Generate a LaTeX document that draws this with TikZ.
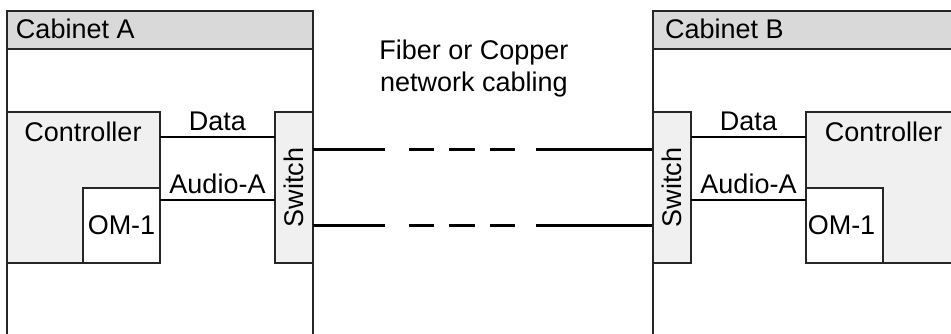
\documentclass[tikz,border=0pt]{standalone}
\usepackage{fontspec}
\setmainfont{Liberation Sans}
\definecolor{headgray}{HTML}{D9D9D9}
\definecolor{boxgray}{HTML}{F0F0F0}
\definecolor{edgegray}{HTML}{262626}
\begin{document}
\begin{tikzpicture}[x=1pt,y=-1pt,
  every node/.style={inner sep=0pt,outer sep=0pt},
  frame/.style={draw=edgegray,line width=1.3pt,anchor=north west},
  cabbox/.style={frame,fill=white},
  headbox/.style={frame,fill=headgray},
  ctrlbox/.style={frame,fill=boxgray},
  ombox/.style={frame,fill=white},
  swbox/.style={frame,fill=boxgray},
  lbl/.style={font=\fontsize{27}{32}\selectfont,text=black},
  cable/.style={line width=2.8pt,black},
  netcable/.style={cable,dash pattern=on 72pt off 24pt on 25pt off 15pt on 26pt off 15pt on 25pt off 21pt on 116pt off 20pt}
]
\useasboundingbox (0,0) rectangle (951,333);
\clip (0,0) rectangle (951,333);
% Cabinet A
\node[cabbox,minimum width=306pt,minimum height=340pt] (cabA) at (7,11) {};
\node[headbox,minimum width=306pt,minimum height=38pt] (headA) at (7,11) {};
\node[lbl,anchor=base west] (tA) at (16,38) {Cabinet A};
\node[ctrlbox,minimum width=153pt,minimum height=151pt] (ctrlA) at (7,112) {};
\node[lbl,anchor=base] (tcA) at (83,141) {Controller};
\node[ombox,minimum width=77pt,minimum height=75pt] (omA) at (83,188) {};
\node[lbl] (toA) at (omA.center) {OM-1};
\node[swbox,minimum width=38pt,minimum height=151pt] (swA) at (275,112) {};
\node[lbl,rotate=90] (tsA) at (swA.center) {Switch};
% Cabinet B
\node[cabbox,minimum width=340pt,minimum height=340pt] (cabB) at (653,11) {};
\node[headbox,minimum width=340pt,minimum height=38pt] (headB) at (653,11) {};
\node[lbl,anchor=base west] (tB) at (665,38) {Cabinet B};
\node[ctrlbox,minimum width=155pt,minimum height=151pt] (ctrlB) at (806,112) {};
\node[lbl,anchor=base] (tcB) at (883.5,141) {Controller};
\node[ombox,minimum width=77pt,minimum height=75pt] (omB) at (806,188) {};
\node[lbl] (toB) at ([xshift=-3pt]omB.center) {OM-1};
\node[swbox,minimum width=38pt,minimum height=151pt] (swB) at (653,112) {};
\node[lbl,rotate=90] (tsB) at (swB.center) {Switch};
% Internal connections
\draw[cable] ([yshift=-25pt]ctrlA.north east) -- node[lbl,above=6pt] (dA) {Data} ([yshift=-25pt]swA.north west);
\draw[cable] ([yshift=-12pt]omA.north east) -- node[lbl,above=6pt] (aA) {Audio-A} ([yshift=-88pt]swA.north west);
\draw[cable] ([yshift=-25pt]swB.north east) -- node[lbl,above=6pt] (dB) {Data} ([yshift=-25pt]ctrlB.north west);
\draw[cable] ([yshift=-88pt]swB.north east) -- node[lbl,above=6pt] (aB) {Audio-A} ([yshift=-12pt]omB.north west);
% Network cabling
\draw[netcable] ([yshift=-37.5pt]swA.north east) -- ([yshift=-37.5pt]swB.north west);
\draw[netcable] ([yshift=-113.5pt]swA.north east) -- ([yshift=-113.5pt]swB.north west);
\node[lbl,align=center,anchor=base] (net) at (474,91) {Fiber or Copper\\network cabling};
\end{tikzpicture}
\end{document}
